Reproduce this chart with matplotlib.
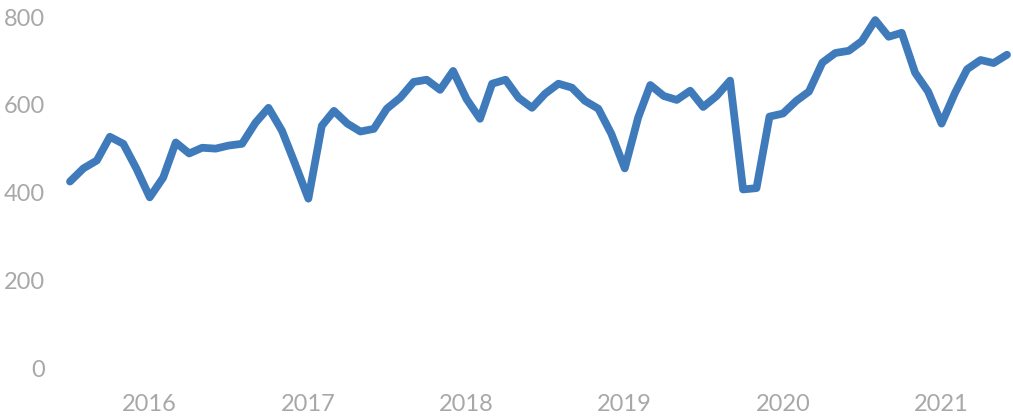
import numpy as np
import pandas as pd
import matplotlib
matplotlib.use("Agg")
import matplotlib.pyplot as plt
import matplotlib.dates as mdates

# monthly values, Jul 2015 .. Jun 2021
months = pd.date_range("2015-07-01", periods=72, freq="MS")
values = [
    425, 455, 473, 527, 511, 455, 389, 434, 514, 489, 502, 500,
    507, 511, 559, 593, 541, 466, 386, 552, 586, 557, 539, 545,
    591, 616, 652, 657, 634, 677, 613, 568, 648, 657, 616, 593,
    625, 648, 639, 609, 591, 534, 455, 571, 645, 620, 611, 632,
    595, 620, 655, 407, 410, 573, 580, 609, 630, 696, 718, 723,
    745, 793, 755, 764, 673, 630, 557, 627, 681, 702, 695, 714,
]
year_ticks = pd.to_datetime(["2016-01-01", "2017-01-01", "2018-01-01",
                             "2019-01-01", "2020-01-01", "2021-01-01"])
y_ticks = [0, 200, 400, 600, 800]

plt.rcParams['font.family'] = ['Lato', 'DejaVu Sans']

fig = plt.figure(figsize=(10.13, 4.19), dpi=100)
ax = fig.add_axes([70 / 1013, 51 / 419, 937 / 1013, 351 / 419])

ax.plot(months, values, color="#3f7bbb", linewidth=5.6,
        solid_joinstyle="round", solid_capstyle="round", clip_on=False)

ax.set_xlim(months[0], months[-1])
ax.set_ylim(0, 800)
ax.set_yticks(y_ticks)
ax.set_xticks(year_ticks)
ax.xaxis.set_major_formatter(mdates.DateFormatter("%Y"))

for s in ax.spines.values():
    s.set_visible(False)
ax.tick_params(axis="both", length=0, colors="#a8a8a8", labelsize=17)
ax.tick_params(axis="y", pad=18)
ax.tick_params(axis="x", pad=19)

fig.savefig("out.png", dpi=100)
